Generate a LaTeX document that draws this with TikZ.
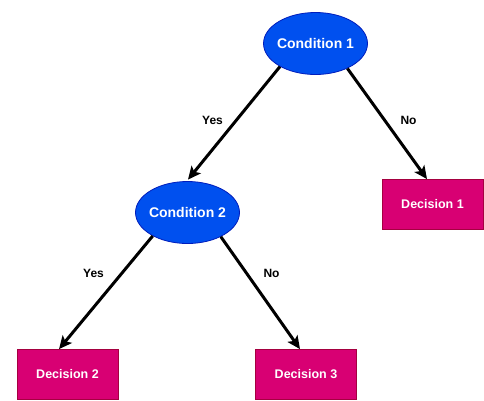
\documentclass[tikz,border=0pt]{standalone}
\usepackage{fontspec}
\setmainfont{Liberation Sans}
\usetikzlibrary{arrows.meta,calc,shapes.geometric}
\definecolor{condfill}{HTML}{0050EF}
\definecolor{conddraw}{HTML}{001DBC}
\definecolor{decfill}{HTML}{D80073}
\definecolor{decdraw}{HTML}{A50040}
\tikzset{
  cond/.style={ellipse, draw=conddraw, fill=condfill, line width=0.8pt, minimum width=104pt, minimum height=62pt, inner sep=0pt, text=white, font=\fontsize{14}{16}\selectfont\bfseries},
  dec/.style={rectangle, draw=decdraw, fill=decfill, line width=0.8pt, minimum width=101pt, minimum height=50pt, inner sep=0pt, text=white, font=\fontsize{12.5}{14}\selectfont\bfseries},
  conn/.style={line width=3pt, -{Stealth[length=13pt,width=12pt,inset=3pt]}},
  lbl/.style={font=\fontsize{12}{14}\selectfont\bfseries, text=black, inner sep=0pt}
}
\begin{document}
\begin{tikzpicture}[x=1pt,y=-1pt]
\useasboundingbox (0,0) rectangle (484,400);
\node[cond] (c1) at (315.5,43.5) {\makebox[0pt]{Condition 1}};
\node[cond] (c2) at (187.5,212.5) {\makebox[0pt]{Condition 2}};
\node[dec] (d1) at (432.5,204.5) {Decision 1};
\node[dec] (d2) at (67.5,374.5) {Decision 2};
\node[dec] (d3) at (306,374.5) {Decision 3};
\coordinate (t1) at ($(c2.north)+(0.5,-1.5)$);
\coordinate (t2) at ($(d1.north)+(-5.5,0)$);
\coordinate (t3) at ($(d2.north)+(-8.5,0)$);
\coordinate (t4) at ($(d3.north)+(-6,0)$);
\draw[conn] (c1.213) -- (t1);
\draw[conn] (c1.322) -- (t2);
\draw[conn] (c2.214) -- (t3);
\draw[conn] (c2.324) -- (t4);
\node[lbl] (l1) at (212.5,120) {Yes};
\node[lbl] (l2) at (408.5,120) {No};
\node[lbl] (l3) at (93.5,273) {Yes};
\node[lbl] (l4) at (271.5,273) {No};
\end{tikzpicture}
\end{document}
